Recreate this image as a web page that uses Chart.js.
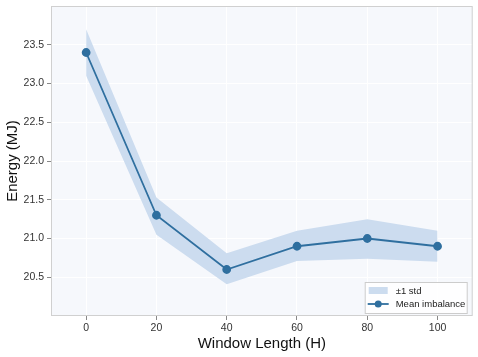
<!DOCTYPE html>
<html>
<head>
<meta charset="utf-8">
<script src="https://cdn.jsdelivr.net/npm/chart.js@4"></script>
<style>
    html, body { margin: 0; padding: 0; background: #ffffff; }
    #wrap { width: 478px; height: 357px; }
</style>
</head>
<body>
<div id="wrap"><canvas id="energyChart" width="478" height="357"></canvas></div>
<script>

const windowLengths = [0, 20, 40, 60, 80, 100];
const meanImbalance = [23.4, 21.3, 20.6, 20.9, 21.0, 20.9];
const stdUpper = [23.7, 21.53, 20.81, 21.1, 21.25, 21.1];
const stdLower = [23.1, 21.05, 20.41, 20.71, 20.74, 20.7];
const xTicks = [0, 20, 40, 60, 80, 100];
const yTicks = [20.5, 21.0, 21.5, 22.0, 22.5, 23.0, 23.5];

const lineColor = "#2f6f9f";
const bandColor = "#ccdcef";

function points(ys) {
    return windowLengths.map((x, i) => ({ x: x, y: ys[i] }));
}

// plot background and frame
const plotFrame = {
    id: "plotFrame",
    beforeDraw(chart) {
        const a = chart.chartArea;
        const ctx = chart.ctx;
        ctx.save();
        ctx.fillStyle = "#f6f8fc";
        ctx.fillRect(a.left, a.top, a.right - a.left, a.bottom - a.top);
        ctx.restore();
    },
    afterDraw(chart) {
        const a = chart.chartArea;
        const ctx = chart.ctx;
        ctx.save();
        ctx.strokeStyle = "#d0d0d0";
        ctx.lineWidth = 1;
        ctx.strokeRect(a.left + 0.5, a.top + 0.5, a.right - a.left - 1, a.bottom - a.top - 1);
        ctx.restore();
    }
};

// legend drawn inside the plot, lower right
const innerLegend = {
    id: "innerLegend",
    afterDraw(chart) {
        const a = chart.chartArea;
        const ctx = chart.ctx;
        const w = 102, h = 31;
        const x0 = a.right - 6 - w;
        const y0 = a.bottom - 3 - h;
        ctx.save();
        ctx.fillStyle = "rgba(255,255,255,0.85)";
        ctx.strokeStyle = "#cccccc";
        ctx.lineWidth = 1;
        ctx.fillRect(x0 + 0.5, y0 + 0.5, w, h);
        ctx.strokeRect(x0 + 0.5, y0 + 0.5, w, h);

        ctx.fillStyle = bandColor;
        ctx.fillRect(x0 + 4, y0 + 5, 19, 7);

        ctx.strokeStyle = lineColor;
        ctx.lineWidth = 1.8;
        ctx.beginPath();
        ctx.moveTo(x0 + 3, y0 + 22);
        ctx.lineTo(x0 + 24, y0 + 22);
        ctx.stroke();
        ctx.fillStyle = lineColor;
        ctx.beginPath();
        ctx.arc(x0 + 13.5, y0 + 22, 3.5, 0, Math.PI * 2);
        ctx.fill();

        ctx.fillStyle = "#222222";
        ctx.font = "9.5px 'Liberation Sans', Arial, sans-serif";
        ctx.textBaseline = "middle";
        ctx.fillText("\u00b11 std", x0 + 31, y0 + 9);
        ctx.fillText("Mean imbalance", x0 + 31, y0 + 22);
        ctx.restore();
    }
};

const ctx = document.getElementById("energyChart").getContext("2d");

new Chart(ctx, {

    type: "line",

    data: {
        datasets: [
            {
                label: "upper",
                data: points(stdUpper),
                borderWidth: 0,
                pointRadius: 0,
                backgroundColor: bandColor,
                fill: "+1",
                order: 3
            },
            {
                label: "lower",
                data: points(stdLower),
                borderWidth: 0,
                pointRadius: 0,
                fill: false,
                order: 2
            },
            {
                label: "Mean imbalance",
                data: points(meanImbalance),
                borderColor: lineColor,
                backgroundColor: lineColor,
                borderWidth: 1.8,
                pointRadius: 3.5,
                pointHoverRadius: 3.5,
                fill: false,
                order: 1
            }
        ]
    },

    options: {
        responsive: false,
        animation: false,
        layout: { padding: { top: 6, right: 5, left: 0, bottom: 0 } },
        plugins: {
            legend: { display: false },
            tooltip: { enabled: false }
        },
        scales: {
            x: {
                type: "linear",
                min: -10,
                max: 110,
                afterBuildTicks: (s) => { s.ticks = xTicks.map(v => ({ value: v })); },
                afterFit: (s) => { s.height = 41; s.paddingLeft = 0; s.paddingRight = 0; },
                grid: {
                    color: "#ffffff",
                    lineWidth: 1,
                    tickColor: "#888888",
                    tickLength: 4,
                    drawTicks: true
                },
                border: { display: false },
                ticks: {
                    color: "#333333",
                    padding: 2,
                    font: { family: "'Liberation Sans', Arial, sans-serif", size: 10.5 },
                    callback: (v) => String(v)
                },
                title: {
                    display: true,
                    text: "Window Length (H)",
                    color: "#111111",
                    padding: { top: 0, bottom: 4 },
                    font: { family: "'Liberation Sans', Arial, sans-serif", size: 15 }
                }
            },
            y: {
                min: 20,
                max: 24,
                afterBuildTicks: (s) => { s.ticks = yTicks.map(v => ({ value: v })); },
                afterFit: (s) => { s.width = 51; s.paddingTop = 0; s.paddingBottom = 0; },
                grid: {
                    color: "#ffffff",
                    lineWidth: 1,
                    tickColor: "#888888",
                    tickLength: 4,
                    drawTicks: true
                },
                border: { display: false },
                ticks: {
                    color: "#333333",
                    padding: 3,
                    font: { family: "'Liberation Sans', Arial, sans-serif", size: 10.5 },
                    callback: (v) => v.toFixed(1)
                },
                title: {
                    display: true,
                    text: "Energy (MJ)",
                    color: "#111111",
                    padding: { top: 4, bottom: 2 },
                    font: { family: "'Liberation Sans', Arial, sans-serif", size: 15 }
                }
            }
        }
    },

    plugins: [plotFrame, innerLegend]

});

</script>
</body>
</html>
